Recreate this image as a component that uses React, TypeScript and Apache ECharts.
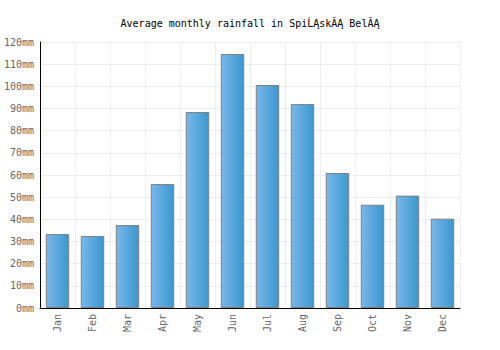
import React, { useEffect, useRef } from "react";
import * as echarts from "echarts";

const titleText = "Average monthly rainfall in SpiĹĄskĂĄ BelĂĄ";
const months = ["Jan", "Feb", "Mar", "Apr", "May", "Jun", "Jul", "Aug", "Sep", "Oct", "Nov", "Dec"];
const rainfall = [33.4, 32.5, 37.4, 55.9, 88.4, 114.6, 100.6, 92.0, 60.9, 46.6, 50.7, 40.3];

const FONT = "'DejaVu Sans Mono', monospace";

export default function App() {
  const ref = useRef<HTMLDivElement>(null);
  useEffect(() => {
    if (!ref.current) return;
    const chart = echarts.init(ref.current, null, { renderer: "svg" });
    chart.setOption({
      animation: false,
      backgroundColor: "#ffffff",
      title: {
        text: titleText,
        left: "center",
        top: 13,
        textStyle: { fontFamily: FONT, fontSize: 10, fontWeight: "normal", color: "#000" },
      },
      grid: { left: 40, right: 40, top: 42, bottom: 42 },
      xAxis: {
        type: "category",
        data: months,
        axisLine: { lineStyle: { color: "#000", width: 1 } },
        axisTick: { show: false },
        axisLabel: { rotate: 90, fontFamily: FONT, fontSize: 10, color: "#666", margin: 6 },
        splitLine: { show: true, lineStyle: { color: "#eeeeee", width: 1 } },
      },
      yAxis: {
        type: "value",
        min: 0,
        max: 120,
        interval: 10,
        axisLine: { show: true, lineStyle: { color: "#000", width: 1 } },
        axisTick: { show: false },
        axisLabel: { formatter: "{value}mm", fontFamily: FONT, fontSize: 10, color: "#666", margin: 6 },
        splitLine: { show: true, lineStyle: { color: "#eeeeee", width: 1 } },
      },
      series: [
        {
          type: "bar",
          data: rainfall,
          barWidth: "67%",
          itemStyle: {
            color: new echarts.graphic.LinearGradient(0, 0, 1, 0, [
              { offset: 0, color: "#7ab7ea" },
              { offset: 1, color: "#3a98cf" },
            ]),
            borderColor: "#808080",
            borderWidth: 1,
          },
        },
      ],
    });
    return () => chart.dispose();
  }, []);
  return <div ref={ref} style={{ width: 500, height: 350, position: "absolute", left: 0, top: 0 }} />;
}
